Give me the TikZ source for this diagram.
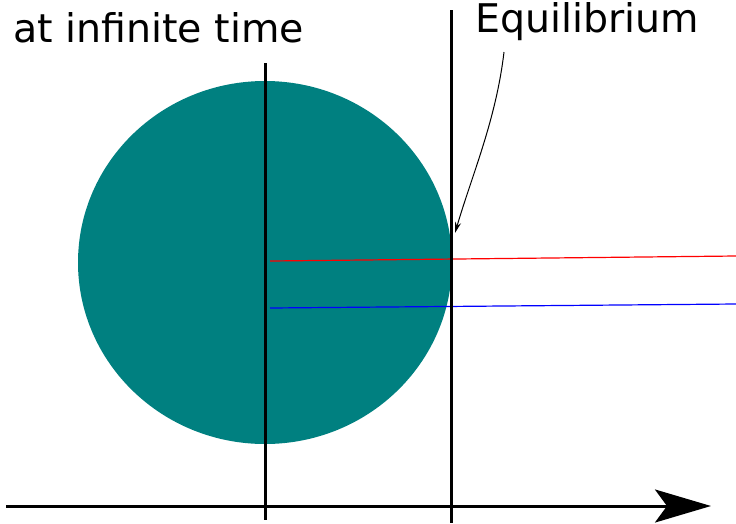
\documentclass[tikz,border=0pt]{standalone}
\usepackage{fontspec}
\setmainfont{DejaVu Sans}
\usetikzlibrary{arrows.meta}
\definecolor{tealc}{RGB}{0,128,128}
\tikzset{
  axis/.style={line width=3pt},
  label/.style={inner sep=0pt, font=\fontsize{39.5}{47}\selectfont},
  level/.style={line width=1.2pt}
}
\begin{document}
\begin{tikzpicture}[x=1pt,y=-1pt]
\useasboundingbox (0,0) rectangle (736,523);
% circle
\fill[tealc] (265,262.5) ellipse [x radius=187, y radius=181.5];
% coordinates
\coordinate (axL) at (6,506);
\coordinate (axR) at (711,506);
\coordinate (v1t) at (265,63);
\coordinate (v1b) at (265,520);
\coordinate (v2t) at (451,10);
\coordinate (v2b) at (451,523);
\coordinate (r1) at (270,261);
\coordinate (r2) at (736,256);
\coordinate (b1) at (270,308);
\coordinate (b2) at (736,304);
\coordinate (eqs) at (504,52);
\coordinate (eqe) at (455,233);
% level lines
\draw[level, red] (r1) -- (r2);
\draw[level, blue] (b1) -- (b2);
% axes
\draw[axis] (v1t) -- (v1b);
\draw[axis] (v2t) -- (v2b);
\draw[axis, -{Stealth[length=56pt,width=33pt,inset=12pt]}] (axL) -- (axR);
% labels
\node[label, anchor=base west] (inf) at (13,42) {at infinite time};
\node[label, anchor=base west] (eq) at (475,32) {Equilibrium};
% arrow
\draw[line width=1pt, -{Stealth[length=11pt,width=6pt]}] (eqs) .. controls (496,120) and (472,175) .. (eqe);
\end{tikzpicture}
\end{document}
